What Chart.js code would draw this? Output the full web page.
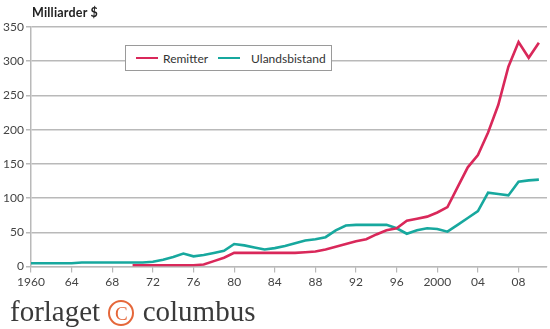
<!DOCTYPE html>
<html>
<head>
<meta charset="utf-8">
<script src="https://cdn.jsdelivr.net/npm/chart.js@4/dist/chart.umd.min.js"></script>
<style>
  html, body { margin: 0; padding: 0; background: #fff; }
  #wrap { position: relative; width: 550px; height: 329px; overflow: hidden; }
  #chart { position: absolute; left: 0; top: 0; }
  #title {
    position: absolute; left: 32px; top: 5px;
    font: bold 12.5px Lato, sans-serif; color: #222; letter-spacing: 0.2px;
  }
  #legend {
    position: absolute; left: 125px; top: 45px; width: 205px; height: 24px;
    background: #fff; border: 1px solid #9a9a9a;
    font: 12px Lato, sans-serif; color: #333;
    display: flex; align-items: center;
  }
  .item { display: flex; align-items: center; }
  .swatch { display: inline-block; width: 22px; height: 2.5px; margin: 0 5px 0 10px; }
  #logo {
    position: absolute; left: 10px; top: 295px;
    font: 29px "Liberation Serif", serif; color: #3a3a3a; white-space: nowrap;
  }
  #logo .c {
    display: inline-block; width: 22px; height: 22px; border: 2px solid #e5673a;
    border-radius: 50%; color: #e5673a; font-size: 19px; line-height: 23px;
    text-align: center; vertical-align: 1px; margin: 0 1px;
  }
</style>
</head>
<body>
<div id="wrap">
  <canvas id="chart" width="550" height="329"></canvas>
  <div id="title">Milliarder $</div>
  <div id="legend"></div>
  <div id="logo">forlaget <span class="c">C</span> columbus</div>
</div>
<script>
const years = [
  1960, 1961, 1962, 1963, 1964, 1965, 1966, 1967, 1968, 1969,
  1970, 1971, 1972, 1973, 1974, 1975, 1976, 1977, 1978, 1979,
  1980, 1981, 1982, 1983, 1984, 1985, 1986, 1987, 1988, 1989,
  1990, 1991, 1992, 1993, 1994, 1995, 1996, 1997, 1998, 1999,
  2000, 2001, 2002, 2003, 2004, 2005, 2006, 2007, 2008, 2009, 2010
];
// remittances start in 1970
const remitter = [
  null, null, null, null, null, null, null, null, null, null,
  2, 2, 2, 2, 2, 2, 2, 3, 8, 13,
  20, 20, 20, 20, 20, 20, 20, 21, 22, 25,
  29, 33, 37, 40, 47, 53, 56, 67, 70, 73,
  79, 87, 116, 145, 163, 196, 236, 292, 328, 305, 327
];
const ulandsbistand = [
  5, 5, 5, 5, 5, 6, 6, 6, 6, 6,
  6, 6, 7, 10, 14, 19, 15, 17, 20, 23,
  33, 31, 28, 25, 27, 30, 34, 38, 40, 43,
  53, 60, 61, 61, 61, 61, 56, 48, 53, 56,
  55, 51, 61, 71, 81, 108, 106, 104, 124, 126, 127
];
const xTicks = [1960, 1964, 1968, 1972, 1976, 1980, 1984, 1988, 1992, 1996, 2000, 2004, 2008];
const yTicks = [0, 50, 100, 150, 200, 250, 300, 350];

const series = [
  {label: `Remitter`, values: remitter, color: `#d9285a`},
  {label: `Ulandsbistand`, values: ulandsbistand, color: `#17a89e`},
];

const gridColor = `#b9b9b9`;
const tickFont = {family: `Lato`, size: 12};

const chart = new Chart(document.getElementById(`chart`), {
  type: `line`,
  data: {
    datasets: series.map((s) => ({
      label: s.label,
      data: years.map((year, i) => ({x: year, y: s.values[i]})),
      borderColor: s.color,
      borderWidth: 2.6,
      pointRadius: 0,
      tension: 0,
      spanGaps: false,
    })),
  },
  options: {
    responsive: false,
    animation: false,
    layout: {padding: {top: 27, right: 3, bottom: 38, left: 0}},
    plugins: {legend: {display: false}, tooltip: {enabled: false}},
    scales: {
      x: {
        type: `linear`,
        min: 1960,
        max: 2010.8,
        afterBuildTicks: (scale) => {
          scale.ticks = xTicks.map((value) => ({value}));
        },
        ticks: {
          color: `#444`,
          font: tickFont,
          padding: 2,
          maxRotation: 0,
          autoSkip: false,
          callback: (value) => (value === 1960 || value === 2000 ? String(value) : String(value).slice(2)),
        },
        grid: {drawOnChartArea: false, drawTicks: true, tickLength: 6, color: gridColor, lineWidth: 1.2},
        border: {display: true, color: gridColor, width: 1.2},
      },
      y: {
        min: 0,
        max: 350,
        afterBuildTicks: (scale) => {
          scale.ticks = yTicks.map((value) => ({value}));
        },
        afterFit: (scale) => {
          scale.width = 31;
        },
        ticks: {color: `#444`, font: tickFont, padding: 2},
        grid: {color: gridColor, lineWidth: 1.5, tickLength: 5},
        border: {display: true, color: gridColor, width: 1.5},
      },
    },
  },
});

// legend drawn in a box over the plot
const legend = document.getElementById(`legend`);
series.forEach((s, i) => {
  const item = document.createElement(`span`);
  item.className = `item`;
  item.innerHTML = `<span class="swatch" style="background:${s.color};${i ? `margin-right:11px` : ``}"></span>${s.label}`;
  legend.appendChild(item);
});
</script>
</body>
</html>
